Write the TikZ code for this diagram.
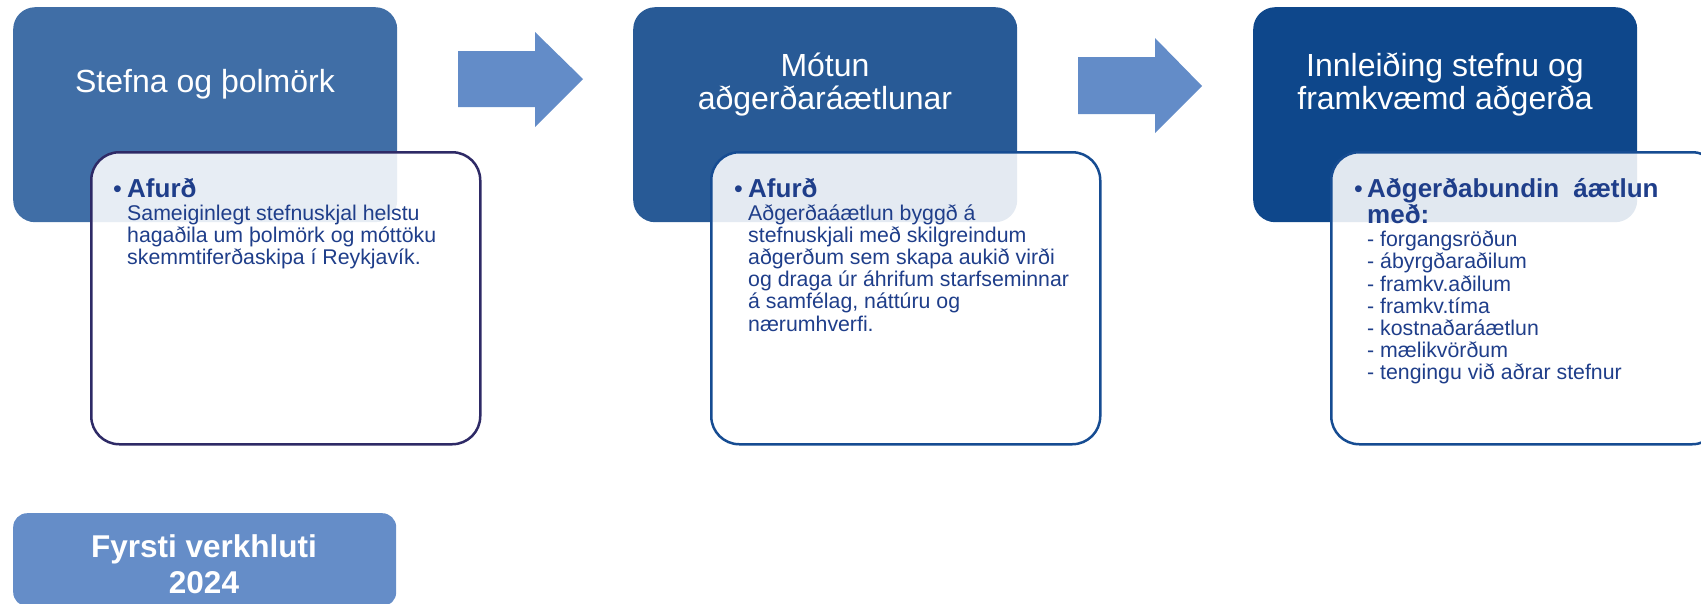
\documentclass[tikz,border=0pt]{standalone}
\usepackage{fontspec}
\setmainfont{Liberation Sans}
\definecolor{topA}{HTML}{406EA6}
\definecolor{topB}{HTML}{285A96}
\definecolor{topC}{HTML}{0E478B}
\definecolor{arrowblue}{HTML}{638CC8}
\definecolor{phaseblue}{HTML}{658DC8}
\definecolor{bordA}{HTML}{2E2A66}
\definecolor{bordB}{HTML}{164C92}
\definecolor{bodytext}{HTML}{1F3E8A}
\tikzset{
  topbox/.style={rectangle, rounded corners=22pt, minimum width=384pt, minimum height=215pt, anchor=north west, inner sep=0pt, draw=none},
  innerbox/.style={rectangle, rounded corners=28pt, minimum width=389pt, minimum height=292pt, anchor=north west, inner sep=0pt, fill=white, fill opacity=0.88, line width=2.5pt},
  titletext/.style={anchor=base, inner sep=0pt, text=white, font=\fontsize{32}{33}\selectfont},
  bullettext/.style={anchor=base west, inner sep=0pt, text=bodytext, font=\fontsize{25}{26}\selectfont},
  headtext/.style={anchor=base west, inner sep=0pt, text=bodytext, font=\bfseries\fontsize{26}{26.5}\selectfont},
  bodytxt/.style={anchor=base west, inner sep=0pt, text=bodytext, font=\fontsize{21.3}{22.2}\selectfont},
  flowarrow/.style={fill=arrowblue, draw=none}
}
\begin{document}
\begin{tikzpicture}[x=1pt,y=-1pt]
\useasboundingbox (0,0) rectangle (1701,603);
\clip (0,0) rectangle (1701,603);

% top boxes
\node[topbox, fill=topA] (t1) at (13,7) {};
\node[topbox, fill=topB] (t2) at (633,7) {};
\node[topbox, fill=topC] (t3) at (1253,7) {};

% arrows
\fill[flowarrow] (458,51) -- (535,51) -- (535,32) -- (583,79) -- (535,127) -- (535,107) -- (458,107) -- cycle;
\fill[flowarrow] (1078,57) -- (1155,57) -- (1155,38) -- (1202,86) -- (1155,133) -- (1155,114) -- (1078,114) -- cycle;

% titles
\node[titletext] (h1) at (205,92.7) {Stefna og þolmörk};
\node[titletext] (h2) at (825,76) {\parbox[t]{380pt}{\centering Mótun\\aðgerðaráætlunar}};
\node[titletext] (h3) at (1445,76) {\parbox[t]{380pt}{\centering Innleiðing stefnu og\\framkvæmd aðgerða}};

% inner boxes
\node[innerbox, draw=bordA] (i1) at (90,151) {};
\node[innerbox, draw=bordB] (i2) at (710,151) {};
\node[innerbox, draw=bordB] (i3) at (1330,151) {};

% box 1 content
\node[bullettext] (b1) at (113,197) {•};
\node[headtext] (a1) at (127,197) {Afurð};
\node[bodytxt] (c1) at (127,220) {\parbox[t]{340pt}{\raggedright Sameiginlegt stefnuskjal helstu\\hagaðila um þolmörk og móttöku\\skemmtiferðaskipa í Reykjavík.}};

% box 2 content
\node[bullettext] (b2) at (734,197) {•};
\node[headtext] (a2) at (748,197) {Afurð};
\node[bodytxt] (c2) at (748,220) {\parbox[t]{340pt}{\raggedright Aðgerðaáætlun byggð á\\stefnuskjali með skilgreindum\\aðgerðum sem skapa aukið virði\\og draga úr áhrifum starfseminnar\\á samfélag, náttúru og\\nærumhverfi.}};

% box 3 content
\node[bullettext] (b3) at (1354,197) {•};
\node[headtext] (a3) at (1367,197) {\parbox[t]{340pt}{\raggedright Aðgerðabundin\hspace{14pt}áætlun\\með:}};
\node[bodytxt] (c3) at (1367,246.7) {\parbox[t]{340pt}{\raggedright - forgangsröðun\\- ábyrgðaraðilum\\- framkv.aðilum\\- framkv.tíma\\- kostnaðaráætlun\\- mælikvörðum\\- tengingu við aðrar stefnur}};

% phase box
\node[rectangle, rounded corners=14pt, minimum width=383pt, minimum height=93pt, anchor=north west, inner sep=0pt, fill=phaseblue] (p1) at (13,513) {};
\node[anchor=base, inner sep=0pt, text=white, font=\bfseries\fontsize{31.5}{36}\selectfont] (p1t) at (204,557) {\parbox[t]{380pt}{\centering Fyrsti verkhluti\\2024}};
\end{tikzpicture}
\end{document}
